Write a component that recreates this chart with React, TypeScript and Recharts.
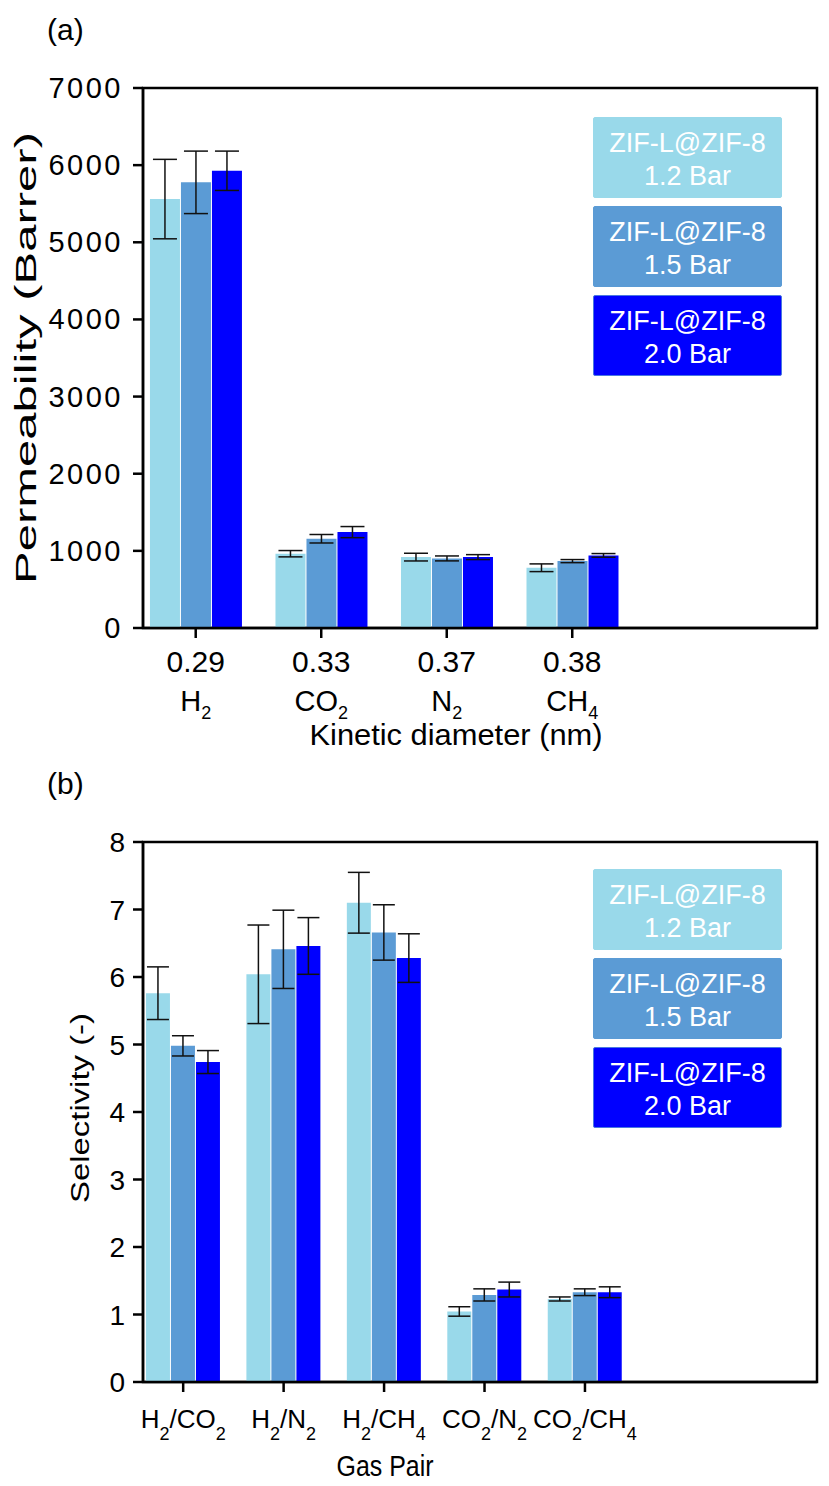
import {
  Bar,
  BarChart,
  ErrorBar,
  Label,
  Legend,
  ReferenceArea,
  XAxis,
  YAxis,
} from "recharts";

const FONT = '"Liberation Sans", Arial, sans-serif';

// colours of the three feed pressures
const COLORS = ["#99d9ea", "#5b9bd5", "#0000ff"];
const PRESSURES = ["1.2 Bar", "1.5 Bar", "2.0 Bar"];
const MEMBRANE = "ZIF-L@ZIF-8";

// (a) permeability vs kinetic diameter
const diameters = ["0.29", "0.33", "0.37", "0.38"];
const gases = ["H2", "CO2", "N2", "CH4"];
const perm12 = [5560, 963, 919, 781];
const perm12Err = [515, 41, 50, 50];
const perm15 = [5777, 1157, 902, 867];
const perm15Err = [405, 55, 32, 20];
const perm20 = [5927, 1243, 919, 941];
const perm20Err = [255, 72, 32, 24];
const permTicks = [0, 1000, 2000, 3000, 4000, 5000, 6000, 7000];

// (b) selectivity per gas pair
const pairs = ["H2/CO2", "H2/N2", "H2/CH4", "CO2/N2", "CO2/CH4"];
const sel12 = [5.76, 6.04, 7.1, 1.045, 1.23];
const sel12Err = [0.39, 0.73, 0.45, 0.07, 0.03];
const sel15 = [4.98, 6.41, 6.66, 1.29, 1.33];
const sel15Err = [0.15, 0.58, 0.41, 0.09, 0.05];
const sel20 = [4.74, 6.46, 6.28, 1.37, 1.33];
const sel20Err = [0.17, 0.42, 0.36, 0.11, 0.08];
const selTicks = [0, 1, 2, 3, 4, 5, 6, 7, 8];

const permData = diameters.map((d, i) => ({
  idx: i,
  diameter: d,
  gas: gases[i],
  p12: perm12[i],
  e12: perm12Err[i],
  p15: perm15[i],
  e15: perm15Err[i],
  p20: perm20[i],
  e20: perm20Err[i],
}));

const selData = pairs.map((p, i) => ({
  idx: i,
  pair: p,
  s12: sel12[i],
  e12: sel12Err[i],
  s15: sel15[i],
  e15: sel15Err[i],
  s20: sel20[i],
  e20: sel20Err[i],
}));

// digits in a formula become subscripts
function chem(label: string, size: number, subSize: number, drop: number) {
  const parts: { t: string; sub: boolean }[] = [];
  for (const ch of label) {
    const sub = /\d/.test(ch);
    const last = parts[parts.length - 1];
    if (last && last.sub === sub) last.t += ch;
    else parts.push({ t: ch, sub });
  }
  let shift = 0;
  return parts.map((p, i) => {
    const target = p.sub ? drop : 0;
    const dy = target - shift;
    shift = target;
    return (
      <tspan key={i} dy={dy} fontSize={p.sub ? subSize : size}>
        {p.t}
      </tspan>
    );
  });
}

const axisStroke = { stroke: "#000", strokeWidth: 2.5 };

function PermXTick(props: any) {
  const { x, y, payload } = props;
  const i = payload.value as number;
  return (
    <g>
      <text x={x} y={y + 32} textAnchor="middle" fontSize={30} fontFamily={FONT} fill="#000">
        {diameters[i]}
      </text>
      <text x={x} y={y + 71} textAnchor="middle" fontSize={29} fontFamily={FONT} fill="#000">
        {chem(gases[i], 29, 18, 8)}
      </text>
    </g>
  );
}

function SelXTick(props: any) {
  const { x, y, payload } = props;
  const i = payload.value as number;
  return (
    <text x={x} y={y + 34} textAnchor="middle" fontSize={26} fontFamily={FONT} fill="#000">
      {chem(pairs[i], 26, 18, 12)}
    </text>
  );
}

function PermYTick(props: any) {
  const { x, y, payload } = props;
  return (
    <text x={x} y={y + 10} textAnchor="end" fontSize={29} letterSpacing={2.5} fontFamily={FONT} fill="#000">
      {payload.value}
    </text>
  );
}

function SelYTick(props: any) {
  const { x, y, payload } = props;
  return (
    <text x={x} y={y + 10} textAnchor="end" fontSize={28} fontFamily={FONT} fill="#000">
      {payload.value}
    </text>
  );
}

function LegendBoxes() {
  return (
    <div style={{ width: 189, fontFamily: FONT }}>
      {PRESSURES.map((p, i) => (
        <div
          key={p}
          style={{
            boxSizing: "border-box",
            width: 189,
            height: 81,
            marginBottom: 8,
            background: COLORS[i],
            border: i === 2 ? "1.5px solid #4a78e0" : "1px solid " + COLORS[i],
            borderRadius: 2,
            color: "#fff",
            fontSize: 27,
            lineHeight: "33px",
            paddingTop: 9,
            textAlign: "center",
          }}
        >
          <div>{MEMBRANE}</div>
          <div>{p}</div>
        </div>
      ))}
    </div>
  );
}

function PermeabilityChart() {
  return (
    <BarChart
      width={829}
      height={760}
      data={permData}
      margin={{ top: 88, right: 12, bottom: 72, left: 83 }}
      barGap={1}
    >
      <XAxis
        dataKey="idx"
        type="number"
        domain={[-0.42, 4.95]}
        ticks={[0, 1, 2, 3]}
        interval={0}
        height={60}
        tickSize={10}
        axisLine={axisStroke}
        tickLine={axisStroke}
        tick={<PermXTick />}
      >
        <Label
          content={(p: any) => {
            const vb = p.viewBox;
            return (
              <text
                x={vb.x + vb.width / 2 - 24}
                y={vb.y + 117}
                textAnchor="middle"
                fontSize={29}
                textLength={293}
                lengthAdjust="spacingAndGlyphs"
                fontFamily={FONT}
                fill="#000"
              >
                Kinetic diameter (nm)
              </text>
            );
          }}
        />
      </XAxis>
      <YAxis
        type="number"
        domain={[0, 7000]}
        ticks={permTicks}
        interval={0}
        width={60}
        tickSize={10}
        tickMargin={10}
        axisLine={axisStroke}
        tickLine={axisStroke}
        tick={<PermYTick />}
      >
        <Label
          content={(p: any) => {
            const vb = p.viewBox;
            const cx = 36;
            const cy = vb.y + vb.height / 2;
            return (
              <text
                x={cx}
                y={cy}
                transform={`rotate(-90 ${cx} ${cy})`}
                textAnchor="middle"
                fontSize={30}
                textLength={452}
                lengthAdjust="spacingAndGlyphs"
                fontFamily={FONT}
                fill="#000"
              >
                Permeability (Barrer)
              </text>
            );
          }}
        />
      </YAxis>
      <ReferenceArea x1={-0.42} x2={4.95} y1={0} y2={7000} fill="none" stroke="#000" strokeWidth={2.5} />
      <Bar dataKey="p12" fill={COLORS[0]} barSize={30} isAnimationActive={false}>
        <ErrorBar dataKey="e12" width={12} stroke="#111" strokeWidth={1.5} direction="y" />
      </Bar>
      <Bar dataKey="p15" fill={COLORS[1]} barSize={30} isAnimationActive={false}>
        <ErrorBar dataKey="e15" width={12} stroke="#111" strokeWidth={1.5} direction="y" />
      </Bar>
      <Bar dataKey="p20" fill={COLORS[2]} barSize={30} isAnimationActive={false}>
        <ErrorBar dataKey="e20" width={12} stroke="#111" strokeWidth={1.5} direction="y" />
      </Bar>
      <Legend
        layout="vertical"
        align="center"
        verticalAlign="middle"
        wrapperStyle={{ top: 117, left: 593, width: 189 }}
        content={() => <LegendBoxes />}
      />
    </BarChart>
  );
}

function SelectivityChart() {
  return (
    <BarChart
      width={829}
      height={726}
      data={selData}
      margin={{ top: 82, right: 12, bottom: 44, left: 83 }}
      barGap={1}
    >
      <XAxis
        dataKey="idx"
        type="number"
        domain={[-0.4, 6.31]}
        ticks={[0, 1, 2, 3, 4]}
        interval={0}
        height={60}
        tickSize={10}
        axisLine={axisStroke}
        tickLine={axisStroke}
        tick={<SelXTick />}
      >
        <Label
          content={(p: any) => {
            const vb = p.viewBox;
            return (
              <text
                x={385}
                y={vb.y + 94}
                textAnchor="middle"
                fontSize={29}
                textLength={97}
                lengthAdjust="spacingAndGlyphs"
                fontFamily={FONT}
                fill="#000"
              >
                Gas Pair
              </text>
            );
          }}
        />
      </XAxis>
      <YAxis
        type="number"
        domain={[0, 8]}
        ticks={selTicks}
        interval={0}
        width={60}
        tickSize={10}
        tickMargin={8}
        axisLine={axisStroke}
        tickLine={axisStroke}
        tick={<SelYTick />}
      >
        <Label
          content={(p: any) => {
            const vb = p.viewBox;
            const cx = 89;
            const cy = vb.y + vb.height / 2 - 4;
            return (
              <text
                x={cx}
                y={cy}
                transform={`rotate(-90 ${cx} ${cy})`}
                textAnchor="middle"
                fontSize={26}
                textLength={190}
                lengthAdjust="spacingAndGlyphs"
                fontFamily={FONT}
                fill="#000"
              >
                Selectivity (-)
              </text>
            );
          }}
        />
      </YAxis>
      <ReferenceArea x1={-0.4} x2={6.31} y1={0} y2={8} fill="none" stroke="#000" strokeWidth={2.5} />
      <Bar dataKey="s12" fill={COLORS[0]} barSize={24} isAnimationActive={false}>
        <ErrorBar dataKey="e12" width={11} stroke="#111" strokeWidth={1.5} direction="y" />
      </Bar>
      <Bar dataKey="s15" fill={COLORS[1]} barSize={24} isAnimationActive={false}>
        <ErrorBar dataKey="e15" width={11} stroke="#111" strokeWidth={1.5} direction="y" />
      </Bar>
      <Bar dataKey="s20" fill={COLORS[2]} barSize={24} isAnimationActive={false}>
        <ErrorBar dataKey="e20" width={11} stroke="#111" strokeWidth={1.5} direction="y" />
      </Bar>
      <Legend
        layout="vertical"
        align="center"
        verticalAlign="middle"
        wrapperStyle={{ top: 109, left: 593, width: 189 }}
        content={() => <LegendBoxes />}
      />
    </BarChart>
  );
}

const panelLetter = {
  position: "absolute" as const,
  left: 47,
  fontFamily: FONT,
  fontSize: 30,
  lineHeight: "30px",
  color: "#000",
};

export default function App() {
  return (
    <div
      style={{
        position: "absolute",
        left: 0,
        top: 0,
        width: 829,
        height: 1486,
        background: "#fff",
        fontFamily: FONT,
      }}
    >
      <div style={{ ...panelLetter, top: 15 }}>(a)</div>
      <div style={{ position: "absolute", left: 0, top: 0 }}>
        <PermeabilityChart />
      </div>
      <div style={{ ...panelLetter, top: 769 }}>(b)</div>
      <div style={{ position: "absolute", left: 0, top: 760 }}>
        <SelectivityChart />
      </div>
    </div>
  );
}
